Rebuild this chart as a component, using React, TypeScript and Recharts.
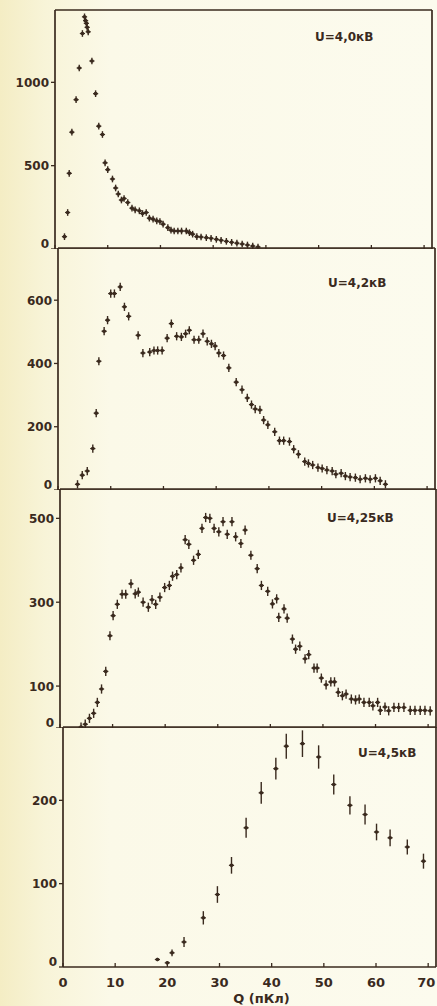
import React from 'react';
import { ScatterChart, Scatter, XAxis, YAxis, ErrorBar } from 'recharts';

const INK = '#3a2a1e';
const FONT = 'DejaVu Sans, Verdana, sans-serif';

// x axis (Q, pC)
const xTicks = [0, 10, 20, 30, 40, 50, 60, 70];
const xMax = 71.5;

// Panel 1: U = 4,0 kV
const q1 = [1.8, 2.4, 2.7, 3.2, 4.0, 4.6, 5.2, 5.6, 5.8, 5.95, 6.1, 6.3, 7.0, 7.7, 8.3, 9.0, 9.5, 10.0, 10.9, 11.5, 12.0, 12.6, 13.1, 13.8, 14.6, 15.2, 16.0, 16.6, 17.3, 17.9, 18.6, 19.3, 19.9, 20.5, 21.4, 22.0, 22.6, 23.3, 24.0, 24.9, 25.5, 26.1, 26.9, 27.7, 28.7, 29.6, 30.6, 31.5, 32.5, 33.5, 34.5, 35.5, 36.5, 37.5, 38.5];
const n1 = [74, 219, 454, 701, 896, 1086, 1293, 1393, 1370, 1354, 1330, 1303, 1128, 932, 737, 687, 517, 476, 420, 366, 330, 294, 303, 279, 245, 235, 229, 213, 219, 185, 179, 169, 165, 149, 128, 113, 108, 108, 108, 108, 98, 89, 74, 72, 68, 64, 58, 52, 46, 40, 35, 30, 24, 18, 12];
const err1 = 20;
const yTicks1 = [0, 500, 1000];

// Panel 2: U = 4,2 kV
const q2 = [3.7, 4.6, 5.55, 6.6, 7.25, 7.75, 8.75, 9.4, 10.0, 10.7, 11.8, 12.6, 13.4, 15.2, 16.1, 17.4, 18.2, 18.9, 19.75, 20.7, 21.5, 22.5, 23.4, 24.2, 24.9, 25.8, 26.7, 27.5, 28.3, 29.1, 29.8, 30.5, 31.4, 32.4, 33.8, 34.9, 35.9, 36.7, 37.4, 38.3, 39.0, 39.8, 41.1, 42.0, 42.8, 43.9, 44.7, 45.6, 46.8, 47.5, 48.3, 49.3, 50.1, 51.0, 52.0, 52.7, 53.7, 54.5, 55.4, 56.4, 57.3, 58.3, 59.2, 60.2, 61.1, 62.1];
const n2 = [18, 47, 60, 131, 243, 407, 502, 537, 621, 621, 642, 579, 549, 489, 433, 436, 441, 441, 441, 480, 526, 486, 484, 494, 505, 475, 475, 494, 470, 462, 455, 433, 425, 386, 341, 317, 291, 270, 256, 253, 221, 206, 184, 156, 156, 153, 129, 113, 90, 84, 79, 71, 68, 63, 60, 50, 53, 44, 41, 39, 34, 37, 34, 37, 29, 18];
const err2 = 13;
const yTicks2 = [0, 200, 400, 600];

// Panel 3: U = 4,25 kV
const q3 = [4.0, 4.8, 5.6, 6.4, 7.1, 7.9, 8.7, 9.5, 10.1, 10.9, 11.8, 12.5, 13.5, 14.3, 14.9, 15.8, 16.8, 17.5, 18.2, 19.0, 19.9, 20.8, 21.4, 22.2, 23.0, 23.8, 24.5, 25.4, 26.3, 27.0, 27.7, 28.5, 29.3, 30.2, 31.0, 31.8, 32.7, 33.4, 34.4, 35.2, 36.3, 37.5, 38.3, 39.5, 40.4, 41.2, 41.6, 42.6, 43.2, 44.2, 44.8, 45.6, 46.6, 47.3, 48.3, 48.9, 49.7, 50.6, 51.5, 52.2, 52.9, 53.7, 54.4, 55.4, 56.2, 56.9, 57.8, 58.8, 59.5, 60.4, 60.9, 61.8, 62.5, 63.5, 64.4, 65.4, 66.6, 67.5, 68.5, 69.4, 70.4];
const n3 = [2, 9, 23, 35, 61, 93, 135, 220, 268, 295, 319, 319, 344, 320, 324, 300, 288, 306, 295, 312, 335, 340, 362, 366, 382, 449, 438, 400, 414, 476, 502, 500, 476, 468, 492, 462, 492, 456, 440, 472, 412, 380, 340, 326, 296, 308, 264, 284, 262, 212, 188, 195, 165, 175, 143, 143, 119, 103, 110, 110, 85, 77, 81, 69, 67, 69, 61, 61, 53, 61, 42, 50, 41, 49, 49, 49, 42, 42, 42, 42, 41];
const err3 = 11;
const yTicks3 = [0, 100, 300, 500];

// Panel 4: U = 4,5 kV
const q4 = [18.1, 20.0, 20.9, 23.2, 26.9, 29.6, 32.3, 35.1, 38.0, 40.8, 42.8, 45.9, 49.0, 51.9, 55.0, 57.9, 60.1, 62.7, 66.0, 69.1];
const n4 = [9, 5, 17, 30, 59, 87, 122, 167, 209, 238, 265, 268, 252, 219, 194, 183, 162, 155, 144, 127];
const e4 = [2, 2, 4, 6, 8, 10, 10, 12, 13, 13, 15, 16, 14, 12, 11, 12, 10, 10, 9, 9];
const yTicks4 = [0, 100, 200];

const labels = ['U=4,0кВ', 'U=4,2кВ', 'U=4,25кВ', 'U=4,5кВ'];
const xTitle = 'Q (пКл)';

type Pt = { x: number; y: number; e: number };
const build = (q: number[], n: number[], e: number | number[]): Pt[] =>
  q.map((x, i) => ({ x, y: n[i], e: Array.isArray(e) ? e[i] : e }));

const panels = [
  { data: build(q1, n1, err1), yMax: 1434, yTicks: yTicks1, top: 9, h: 240, left: 55, right: 4, lx: 315, ly: 37 },
  { data: build(q2, n2, err2), yMax: 765, yTicks: yTicks2, top: 247, h: 243, left: 58, right: 1, lx: 328, ly: 283 },
  { data: build(q3, n3, err3), yMax: 570, yTicks: yTicks3, top: 488, h: 240, left: 60, right: 0, lx: 327, ly: 518 },
  { data: build(q4, n4, e4), yMax: 288, yTicks: yTicks4, top: 726, h: 240, left: 63, right: 0, lx: 358, ly: 753 },
];

const YTick = (props: any) => {
  const { x, y, payload } = props;
  const v = payload.value;
  return (
    <text x={x} y={y} dy={v === 0 ? -1.5 : 4.5} textAnchor="end" fill={INK} fontSize={12} fontWeight="bold" fontFamily={FONT}>
      {v}
    </text>
  );
};

const XTick = (props: any) => {
  const { x, y, payload, index } = props;
  const lastTick = index === xTicks.length - 1;
  return (
    <text x={lastTick ? x - 2 : x} y={y} dy={10} textAnchor="middle" fill={INK} fontSize={13} fontWeight="bold" fontFamily={FONT}>
      {payload.value}
    </text>
  );
};

const Mark = (props: any) => {
  const { cx, cy } = props;
  if (cx == null || cy == null) return null;
  return (
    <g>
      <ellipse cx={cx} cy={cy} rx={2} ry={1.8} fill={INK} />
      <line x1={cx - 2.6} x2={cx + 2.6} y1={cy} y2={cy} stroke={INK} strokeWidth={1.2} />
    </g>
  );
};

const axisLine = { stroke: INK, strokeWidth: 1.7 };
const tickLine = { stroke: INK, strokeWidth: 1.3 };

export default function App() {
  return (
    <div
      style={{
        position: 'absolute',
        left: 0,
        top: 0,
        width: 437,
        height: 1006,
        overflow: 'hidden',
        background: 'linear-gradient(to right, #f4edc4 0px, #f8f4d8 45px, #fbf9e8 110px, #fcfbee 100%)',
      }}
    >
      {panels.map((p, i) => {
        const last = i === panels.length - 1;
        return (
          <div key={i} style={{ position: 'absolute', left: 0, top: p.top }}>
            <ScatterChart width={437} height={p.h + (last ? 40 : 0)} margin={{ top: 0, right: p.right, left: 0, bottom: 0 }}>
              <XAxis
                type="number"
                dataKey="x"
                domain={[0, xMax]}
                ticks={xTicks}
                interval={0}
                allowDataOverflow
                height={1}
                mirror
                tickSize={4}
                tickFormatter={() => ''}
                axisLine={axisLine}
                tickLine={tickLine}
              />
              {last && (
                <XAxis
                  xAxisId="lab"
                  type="number"
                  dataKey="x"
                  domain={[0, xMax]}
                  ticks={xTicks}
                  interval={0}
                  allowDataOverflow
                  height={39}
                  axisLine={false}
                  tickLine={false}
                  tickSize={0}
                  tickMargin={10}
                  tick={<XTick />}
                  label={{
                    value: xTitle,
                    position: 'insideBottom',
                    offset: 3,
                    dx: 12,
                    fill: INK,
                    fontSize: 13,
                    fontWeight: 'bold',
                    fontFamily: FONT,
                  }}
                />
              )}
              <XAxis
                xAxisId="top"
                orientation="top"
                type="number"
                dataKey="x"
                domain={[0, xMax]}
                allowDataOverflow
                height={1}
                tick={false}
                axisLine={axisLine}
              />
              <YAxis
                type="number"
                dataKey="y"
                domain={[0, p.yMax]}
                ticks={p.yTicks}
                interval={0}
                allowDataOverflow
                width={p.left}
                tickSize={4}
                tickMargin={2}
                tick={<YTick />}
                axisLine={axisLine}
                tickLine={tickLine}
              />
              <YAxis
                yAxisId="r"
                orientation="right"
                type="number"
                domain={[0, p.yMax]}
                allowDataOverflow
                width={1}
                tick={false}
                axisLine={axisLine}
              />
              <Scatter data={p.data} dataKey="y" shape={<Mark />} isAnimationActive={false}>
                <ErrorBar dataKey="e" direction="y" width={0} stroke={INK} strokeWidth={1.4} isAnimationActive={false} />
              </Scatter>
            </ScatterChart>
          </div>
        );
      })}
      {panels.map((p, i) => (
        <div
          key={'l' + i}
          style={{
            position: 'absolute',
            left: p.lx,
            top: p.ly - 8,
            fontFamily: FONT,
            fontSize: 12,
            fontWeight: 'bold',
            lineHeight: '16px',
            color: INK,
            whiteSpace: 'nowrap',
          }}
        >
          {labels[i]}
        </div>
      ))}
    </div>
  );
}
